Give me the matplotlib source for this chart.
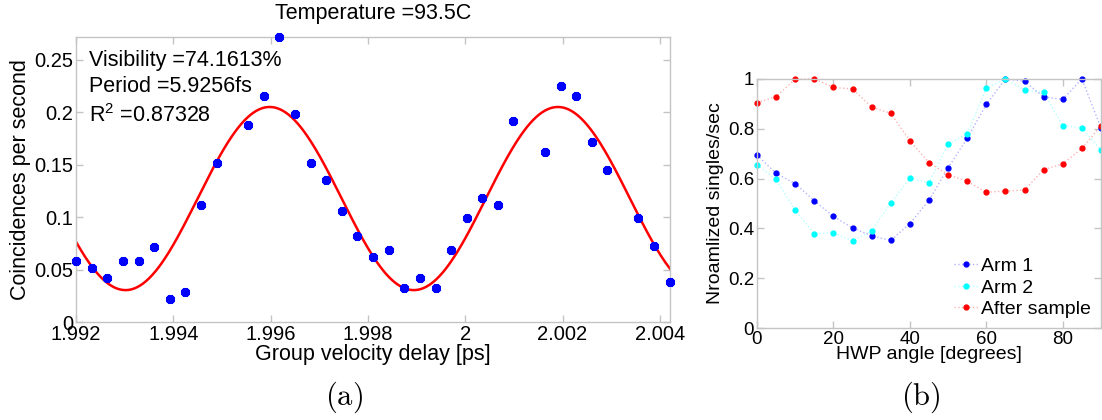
import numpy as np
import matplotlib
matplotlib.use("Agg")
import matplotlib.pyplot as plt

plt.rcParams['font.family'] = ['Liberation Sans', 'DejaVu Sans']
plt.rcParams['mathtext.fontset'] = 'custom'
plt.rcParams['mathtext.rm'] = 'Liberation Sans'
plt.rcParams['mathtext.default'] = 'regular'

# ---------------- (a) coincidences vs group velocity delay ---------------- #
delay = [1.99200, 1.99232, 1.99264, 1.99296, 1.99329, 1.99361, 1.99393,
         1.99425, 1.99457, 1.99489, 1.99553, 1.99586, 1.99618, 1.99650,
         1.99682, 1.99714, 1.99746, 1.99778, 1.99810, 1.99843, 1.99875,
         1.99907, 1.99939, 1.99971, 2.00003, 2.00035, 2.00067, 2.00099,
         2.00164, 2.00196, 2.00228, 2.00260, 2.00292, 2.00356, 2.00389,
         2.00421]
coinc = [0.0584, 0.0514, 0.0420, 0.0584, 0.0584, 0.0717, 0.0219, 0.0286,
         0.1117, 0.1520, 0.1880, 0.2152, 0.2717, 0.1987, 0.1520, 0.1352,
         0.1054, 0.0819, 0.0619, 0.0686, 0.0321, 0.0419, 0.0321, 0.0686,
         0.0987, 0.1184, 0.1117, 0.1917, 0.1616, 0.2250, 0.2152, 0.1717,
         0.1450, 0.0987, 0.0724, 0.0384]

# fit parameters (offset, amplitude, period [ps], peak position [ps])
fit_offset = 0.1177
fit_amp = 0.0873
fit_period = 0.0059256
fit_peak = 1.99598

# ---------------- (b) singles vs HWP angle ---------------- #
angle = [0, 5, 10, 15, 20, 25, 30, 35, 40, 45, 50, 55, 60, 65, 70, 75, 80, 85, 90]
arm1 = [0.695, 0.621, 0.580, 0.511, 0.448, 0.402, 0.370, 0.352, 0.419, 0.513,
        0.643, 0.762, 0.898, 1.000, 0.990, 0.928, 0.918, 1.000, 0.803]
arm2 = [0.656, 0.597, 0.472, 0.379, 0.382, 0.350, 0.390, 0.503, 0.601, 0.584,
        0.738, 0.779, 0.964, 1.000, 0.956, 0.946, 0.812, 0.805, 0.713]
after = [0.905, 0.929, 1.000, 1.000, 0.966, 0.960, 0.887, 0.862, 0.752, 0.664,
         0.615, 0.589, 0.545, 0.550, 0.554, 0.636, 0.659, 0.721, 0.812]

spine_c = '#c4c4c4'


def style_axes(ax, size):
    for s in ax.spines.values():
        s.set_color(spine_c)
        s.set_linewidth(1.0)
    ax.tick_params(direction='in', top=True, right=True, color=spine_c,
                   length=5, width=1.0, labelsize=size, labelcolor='black', pad=2)


fig = plt.figure(figsize=(11.02, 4.2), dpi=100)

# ---- left panel ----
ax1 = fig.add_axes([0.069, 0.2333, 0.539, 0.6786])
xfit = np.linspace(min(delay), max(delay), 400)
yfit = fit_offset + fit_amp * np.cos(2 * np.pi * (xfit - fit_peak) / fit_period)
ax1.plot(xfit, yfit, color='red', lw=1.8, zorder=2)
ax1.plot(delay, coinc, ls='none', marker=(8, 2, 0), color='blue',
         markersize=6.5, mew=2.2, zorder=3, clip_on=False)
ax1.set_xlim(min(delay), max(delay))
ax1.set_ylim(0, max(coinc))
ax1.set_xticks([1.992, 1.994, 1.996, 1.998, 2.0, 2.002, 2.004])
ax1.set_xticklabels(['1.992', '1.994', '1.996', '1.998', '2', '2.002', '2.004'])
ax1.set_yticks([0, 0.05, 0.1, 0.15, 0.2, 0.25])
ax1.set_yticklabels(['0', '0.05', '0.1', '0.15', '0.2', '0.25'])
style_axes(ax1, 14.5)
ax1.set_xlabel('Group velocity delay [ps]', fontsize=15.5, labelpad=0)
ax1.set_ylabel('Coincidences per second', fontsize=15.5, labelpad=2)
ax1.set_title('Temperature =93.5C', fontsize=15.5, pad=13)
ax1.text(0.022, 0.955, 'Visibility =74.1613%\nPeriod =5.9256fs\nR$^2$ =0.87328',
         transform=ax1.transAxes, fontsize=15.5, va='top', ha='left',
         linespacing=1.35)

# ---- right panel ----
ax2 = fig.add_axes([0.6869, 0.219, 0.3122, 0.593])
for vals, col, lab in [(arm1, 'blue', 'Arm 1'), (arm2, 'cyan', 'Arm 2'),
                       (after, 'red', 'After sample')]:
    rgba = matplotlib.colors.to_rgba(col, 0.3)
    ax2.plot(angle, vals, ls=':', lw=1.0, color=rgba, marker='.',
             markersize=7, mfc=col, mec=col, label=lab, clip_on=False)
ax2.set_xlim(0, 90)
ax2.set_ylim(0, 1)
ax2.set_xticks([0, 20, 40, 60, 80])
ax2.set_yticks([0, 0.2, 0.4, 0.6, 0.8, 1])
ax2.set_yticklabels(['0', '0.2', '0.4', '0.6', '0.8', '1'])
style_axes(ax2, 13.5)
ax2.set_xlabel('HWP angle [degrees]', fontsize=14, labelpad=-1)
ax2.set_ylabel('Nroamlized singles/sec', fontsize=14, labelpad=3)
ax2.legend(loc='lower right', frameon=False, fontsize=14, handlelength=1.2,
           handletextpad=0.2, labelspacing=0.2, borderaxespad=0.1)

# captions
fig.text(0.312, 0.055, r'$\mathrm{(a)}$', fontsize=22, ha='center', va='center',
         math_fontfamily='cm')
fig.text(0.836, 0.055, r'$\mathrm{(b)}$', fontsize=22, ha='center', va='center',
         math_fontfamily='cm')

fig.savefig('out.png', dpi=100)
